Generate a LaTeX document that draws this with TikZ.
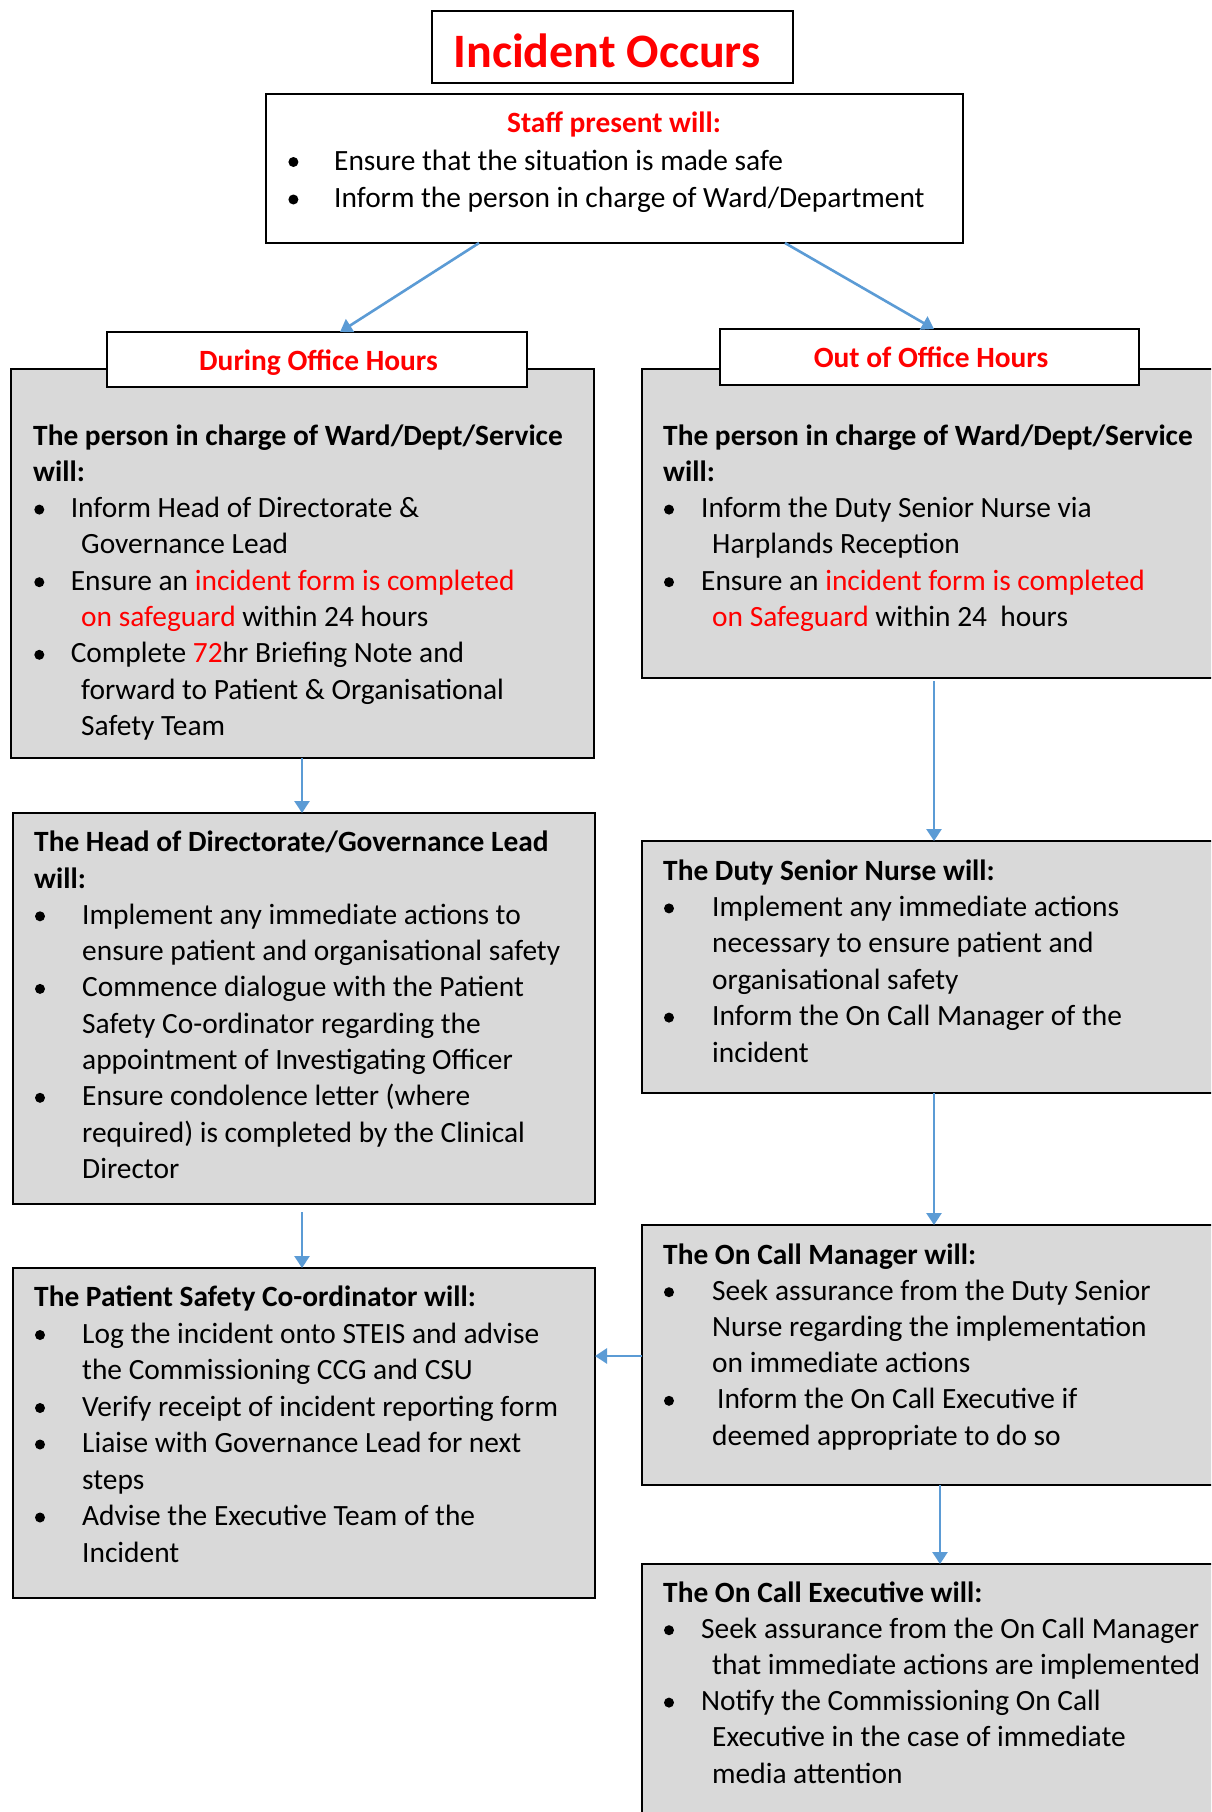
\documentclass[tikz,border=0pt]{standalone}
\usepackage{fontspec}
\setmainfont{Carlito}
\usetikzlibrary{arrows.meta}
\definecolor{fillgrey}{HTML}{D9D9D9}
\definecolor{arrblue}{HTML}{5B9BD5}
\definecolor{txtred}{HTML}{FF0000}
\newcommand\tline[4]{\node[txt] (#1) at (#2,#3) {#4};}
\newcommand\bul[2]{\fill (#1,#2-8) circle[radius=5pt];}
\newcommand\rd[1]{\textcolor{txtred}{#1}}
\begin{document}
\begin{tikzpicture}[x=1pt,y=-1pt,
  box/.style={draw=black,line width=2.2pt,fill=white,inner sep=0,outer sep=0,anchor=north west},
  gbox/.style={box,fill=fillgrey},
  txt/.style={anchor=base west,inner sep=0,font=\fontsize{29.4}{36}\selectfont},
  ctxt/.style={anchor=base,inner sep=0,text=txtred,font=\bfseries\fontsize{29.4}{36}\selectfont},
  arr/.style={draw=arrblue,line width=2.6pt,-{Triangle[width=15pt,length=12pt]}}]
\useasboundingbox (0,0) rectangle (1211,1812);
\clip (0,0) rectangle (1211,1812);
\fill[white] (0,0) rectangle (1211,1812);

% boxes
\node[box,minimum width=361pt,minimum height=72pt] (inc) at (432,11) {};
\node[box,minimum width=697pt,minimum height=149pt] (staff) at (266,94) {};
\node[gbox,minimum width=583pt,minimum height=389pt] (box1) at (11,369) {};
\node[box,minimum width=420pt,minimum height=55pt] (hdrL) at (107,332) {};
\node[gbox,minimum width=600pt,minimum height=309pt] (box2) at (642,369) {};
\node[box,minimum width=419pt,minimum height=56pt] (hdrR) at (720,329) {};
\node[gbox,minimum width=582pt,minimum height=391pt] (box3) at (13,813) {};
\node[gbox,minimum width=600pt,minimum height=252pt] (box4) at (642,841) {};
\node[gbox,minimum width=600pt,minimum height=260pt] (box5) at (642,1225) {};
\node[gbox,minimum width=600pt,minimum height=280pt] (box6) at (642,1564) {};
\node[gbox,minimum width=582pt,minimum height=330pt] (box7) at (13,1268) {};

% connectors
\draw[arr] ([xshift=213pt]staff.south west) -- ([xshift=233pt]hdrL.north west);
\draw[arr] ([xshift=519pt]staff.south west) -- ([xshift=214pt]hdrR.north west);
\draw[arr] ([xshift=291pt]box1.south west) -- ([xshift=289pt]box3.north west);
\draw[arr] ([xshift=292pt,yshift=-3pt]box2.south west) -- ([xshift=292pt]box4.north west);
\draw[arr] ([xshift=292pt]box4.south west) -- ([xshift=292pt]box5.north west);
\draw[arr] ([xshift=289pt,yshift=-8pt]box3.south west) -- ([xshift=289pt]box7.north west);
\draw[arr] ([xshift=298pt]box5.south west) -- ([xshift=298pt]box6.north west);
\draw[arr] ([yshift=-131pt]box5.north west) -- ([yshift=-88pt]box7.north east);

% title
\node[anchor=base,inner sep=0,text=txtred,font=\bfseries\fontsize{48}{58}\selectfont] (inct) at (607,67.7) {Incident Occurs};

% staff box
\node[ctxt] (stafft) at (614,132) {Staff present will:};
\bul{293.4}{170}\tline{st1}{334}{170}{Ensure that the situation is made safe}
\bul{293.4}{207.5}\tline{st2}{334}{207.5}{Inform the person in charge of Ward/Department}

% headers
\node[ctxt] (hdrLt) at (318.5,370) {During Office Hours};
\node[ctxt] (hdrRt) at (931,367) {Out of Office Hours};

% box1
\tline{b1h1}{33}{445}{\bfseries The person in charge of Ward/Dept/Service}
\tline{b1h2}{33}{481.3}{\bfseries will:}
\bul{39.3}{517.6}\tline{b1a1}{70.6}{517.6}{Inform Head of Directorate \&}
\tline{b1a2}{81}{553.9}{Governance Lead}
\bul{39.3}{590.2}\tline{b1b1}{70.6}{590.2}{Ensure an \rd{incident form is completed}}
\tline{b1b2}{81}{626.5}{\rd{on safeguard} within 24 hours}
\bul{39.3}{662.8}\tline{b1c1}{70.6}{662.8}{Complete \rd{72}hr Briefing Note and}
\tline{b1c2}{81}{699.1}{forward to Patient \& Organisational}
\tline{b1c3}{81}{735.4}{Safety Team}

% box2
\tline{b2h1}{663}{445}{\bfseries The person in charge of Ward/Dept/Service}
\tline{b2h2}{663}{481.3}{\bfseries will:}
\bul{669}{517.6}\tline{b2a1}{701}{517.6}{Inform the Duty Senior Nurse via}
\tline{b2a2}{712}{553.9}{Harplands Reception}
\bul{669}{590.2}\tline{b2b1}{701}{590.2}{Ensure an \rd{incident form is completed}}
\tline{b2b2}{712}{626.5}{\rd{on Safeguard} within 24~ hours}

% box3
\tline{b3h1}{34}{851.7}{\bfseries The Head of Directorate/Governance Lead}
\tline{b3h2}{34}{888}{\bfseries will:}
\bul{40}{924.3}\tline{b3a1}{82}{924.3}{Implement any immediate actions to}
\tline{b3a2}{82}{960.6}{ensure patient and organisational safety}
\bul{40}{996.9}\tline{b3b1}{82}{996.9}{Commence dialogue with the Patient}
\tline{b3b2}{82}{1033.2}{Safety Co-ordinator regarding the}
\tline{b3b3}{82}{1069.5}{appointment of Investigating Officer}
\bul{40}{1105.8}\tline{b3c1}{82}{1105.8}{Ensure condolence letter (where}
\tline{b3c2}{82}{1142.1}{required) is completed by the Clinical}
\tline{b3c3}{82}{1178.4}{Director}

% box4
\tline{b4h1}{663}{880}{\bfseries The Duty Senior Nurse will:}
\bul{669}{916.4}\tline{b4a1}{712}{916.4}{Implement any immediate actions}
\tline{b4a2}{712}{952.8}{necessary to ensure patient and}
\tline{b4a3}{712}{989.2}{organisational safety}
\bul{669}{1025.6}\tline{b4b1}{712}{1025.6}{Inform the On Call Manager of the}
\tline{b4b2}{712}{1062}{incident}

% box5
\tline{b5h1}{663}{1264}{\bfseries The On Call Manager will:}
\bul{669}{1300.2}\tline{b5a1}{712}{1300.2}{Seek assurance from the Duty Senior}
\tline{b5a2}{712}{1336.4}{Nurse regarding the implementation}
\tline{b5a3}{712}{1372.6}{on immediate actions}
\bul{669}{1408.8}\tline{b5b1}{717}{1408.8}{Inform the On Call Executive if}
\tline{b5b2}{712}{1445}{deemed appropriate to do so}

% box6
\tline{b6h1}{663}{1602}{\bfseries The On Call Executive will:}
\bul{669}{1638.2}\tline{b6a1}{701}{1638.2}{Seek assurance from the On Call Manager}
\tline{b6a2}{712}{1674.4}{that immediate actions are implemented}
\bul{669}{1710.6}\tline{b6b1}{701}{1710.6}{Notify the Commissioning On Call}
\tline{b6b2}{712}{1746.8}{Executive in the case of immediate}
\tline{b6b3}{712}{1783}{media attention}

% box7
\tline{b7h1}{34}{1306.5}{\bfseries The Patient Safety Co-ordinator will:}
\bul{40}{1343}\tline{b7a1}{82}{1343}{Log the incident onto STEIS and advise}
\tline{b7a2}{82}{1379.5}{the Commissioning CCG and CSU}
\bul{40}{1416}\tline{b7b1}{82}{1416}{Verify receipt of incident reporting form}
\bul{40}{1452.5}\tline{b7c1}{82}{1452.5}{Liaise with Governance Lead for next}
\tline{b7c2}{82}{1489}{steps}
\bul{40}{1525.5}\tline{b7d1}{82}{1525.5}{Advise the Executive Team of the}
\tline{b7d2}{82}{1562}{Incident}
\end{tikzpicture}
\end{document}
